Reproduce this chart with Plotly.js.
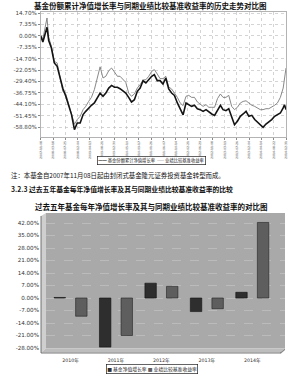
<!DOCTYPE html>
<html><head><meta charset="utf-8">
<script src="https://cdn.plot.ly/plotly-3.0.1.min.js"></script>
<style>html,body{margin:0;padding:0;background:#fff;}#chart{width:300px;height:377px;}</style>
</head><body><div id="chart"></div>
<script>
// ---------- texts ----------
const lineTitle = '基金份额累计净值增长率与同期业绩比较基准收益率的历史走势对比图';
const barTitle = '过去五年基金每年净值增长率及其与同期业绩比较基准收益率的对比图';
const noteText = '注：本基金自2007年11月08日起由封闭式基金隆元证券投资基金转型而成。';
const sectionText = '3.2.3 过去五年基金每年净值增长率及其与同期业绩比较基准收益率的比较';
const lineNames = ['基金份额累计净值增长率', '业绩比较基准收益率'];
const barNames = ['基金净值增长率', '业绩比较基准收益率'];

// ---------- line chart data (cumulative %) ----------
const dates = ['2007-11-08','2007-12-01',
'2008-01-14','2008-02-01','2008-03-01','2008-04-01','2008-05-01','2008-06-01','2008-07-01','2008-08-01','2008-09-01','2008-10-01','2008-11-01','2008-12-01',
'2009-01-01','2009-02-01','2009-03-01','2009-04-01','2009-05-01','2009-06-01','2009-07-01','2009-08-01','2009-09-01','2009-10-01','2009-11-01','2009-12-01',
'2010-01-01','2010-02-01','2010-03-01','2010-04-01','2010-05-01','2010-06-01','2010-07-01','2010-08-01','2010-09-01','2010-10-01','2010-11-01','2010-12-01',
'2011-01-01','2011-02-01','2011-03-01','2011-04-01','2011-05-01','2011-06-01','2011-07-01','2011-08-01','2011-09-01','2011-10-01','2011-11-01','2011-12-01',
'2012-01-01','2012-02-01','2012-03-01','2012-04-01','2012-05-01','2012-06-01','2012-07-01','2012-08-01','2012-09-01','2012-10-01','2012-11-01','2012-12-01',
'2013-01-01','2013-02-01','2013-03-01','2013-04-01','2013-05-01','2013-06-01','2013-07-01','2013-08-01','2013-09-01','2013-10-01','2013-11-01','2013-12-01',
'2014-01-01','2014-02-01','2014-03-01','2014-04-01','2014-05-01','2014-06-01','2014-07-01','2014-08-01','2014-09-01','2014-10-01','2014-11-01','2014-12-01',
'2014-12-15','2014-12-31'];
const fundCum = [0, -4.0,
5.5, -3.0, -7.9, -17.5, -19.7, -27.2, -34.0, -39.0, -45.5, -50.8, -60.5, -56.2,
-56.2, -50.8, -48.7, -46.5, -44.8, -43.3, -40.1, -37.0, -39.0, -36.9, -33.7, -32.0,
-33.2, -33.2, -34.1, -35.4, -36.9, -39.7, -42.7, -41.2, -35.8, -33.7, -29.0, -30.4,
-28.3, -26.1, -25.0, -28.9, -28.9, -31.1, -27.2, -34.3, -36.9, -38.4, -43.3, -47.6,
-51.0, -43.3, -44.4, -45.5, -44.8, -47.0, -47.6, -48.7, -47.6, -49.1, -50.4, -51.3,
-47.6, -44.8, -47.6, -48.3, -47.0, -53.0, -57.3, -55.1, -51.9, -50.4, -48.7, -51.9,
-51.3, -54.0, -55.6, -57.3, -59.0, -56.9, -55.6, -54.0, -51.9, -50.8, -49.8, -46.5,
-44.5, -47.6];
const benchCum = [0, -2.0,
11.5, -1.0, -6.8, -16.5, -17.5, -26.1, -36.0, -37.5, -44.4, -49.8, -57.0, -54.0,
-51.9, -47.6, -45.5, -42.3, -39.7, -34.7, -28.3, -20.0, -27.2, -26.1, -22.5, -20.8,
-23.3, -26.1, -26.1, -28.3, -30.0, -36.9, -39.0, -37.5, -33.7, -31.5, -28.5, -28.3,
-26.1, -22.9, -21.8, -24.6, -27.6, -27.6, -26.1, -33.0, -34.3, -36.9, -39.7, -43.3,
-45.0, -39.0, -38.4, -39.7, -39.7, -42.7, -44.4, -45.5, -44.4, -46.1, -46.1, -46.1,
-40.5, -37.5, -39.7, -39.7, -38.4, -45.5, -47.6, -46.1, -43.3, -42.3, -41.9, -43.3,
-44.8, -45.5, -46.5, -47.6, -47.6, -47.0, -47.0, -46.1, -44.8, -43.3, -39.7, -33.7,
-28.0, -20.8];
const lineTickDates = ['2007-11-08','2008-03-18','2008-07-25','2008-12-04','2009-04-13','2009-08-21','2009-12-30',
'2010-05-10','2010-09-17','2011-01-26','2011-06-07','2011-10-14','2012-02-21','2012-06-29','2012-11-08',
'2013-03-19','2013-07-26','2013-12-04','2014-04-14','2014-08-22','2014-12-31'];
const lineYTicks = [14.7, 7.35, 0, -7.35, -14.7, -22.05, -29.4, -36.75, -44.1, -51.45, -58.8];
const lineYTickText = ['14.70%','7.35%','0.00%','-7.35%','-14.70%','-22.05%','-29.40%','-36.75%','-44.10%','-51.45%','-58.80%'];

// ---------- bar chart data (yearly %) ----------
const years = ['2010年','2011年','2012年','2013年','2014年'];
const fundYearly = [0.3, -27.5, 8.3, -7.6, 3.2];
const benchYearly = [-10.2, -21.0, 6.5, -6.0, 42.3];
const barYTicks = [42, 35, 28, 21, 14, 7, 0, -7, -14, -21, -28];
const barYTickText = ['42.00%','35.00%','28.00%','21.00%','14.00%','7.00%','0.00%','-7.00%','-14.00%','-21.00%','-28.00%'];

// ---------- styling ----------
const W = 300, H = 377;
const px = v => v / W, py = v => 1 - v / H;
const cjk = 'Noto Sans CJK SC, sans-serif';
const num = 'DejaVu Sans, Noto Sans CJK SC, sans-serif';
const fundColor = '#141414', benchColor = '#7a7a7a';
const fundBar = '#2e2e2e', benchBar = '#5e5e5e';

const traces = [
  {type:'scatter', mode:'lines', x:dates, y:benchCum, name:lineNames[1], xaxis:'x', yaxis:'y',
   line:{color:benchColor, width:0.9}, showlegend:false},
  {type:'scatter', mode:'lines', x:dates, y:fundCum, name:lineNames[0], xaxis:'x', yaxis:'y',
   line:{color:fundColor, width:1.6}, showlegend:false},
  {type:'bar', x:years, y:fundYearly, name:barNames[0], xaxis:'x2', yaxis:'y2',
   marker:{color:fundBar, line:{color:'#111', width:0.6}}, showlegend:false},
  {type:'bar', x:years, y:benchYearly, name:barNames[1], xaxis:'x2', yaxis:'y2',
   marker:{color:benchBar, line:{color:'#222', width:0.6}}, showlegend:false}
];

function poly(pts){ return 'M' + pts.map(p => px(p[0]) + ',' + py(p[1])).join('L') + 'Z'; }

const layout = {
  width:W, height:H, autosize:false,
  margin:{l:0, r:0, t:0, b:0, pad:0},
  paper_bgcolor:'#fff', plot_bgcolor:'rgba(0,0,0,0)',
  showlegend:false, hovermode:false,
  barmode:'group', bargap:0.05, bargroupgap:0.47,
  font:{family:num, size:6, color:'#333'},
  xaxis:{domain:[px(40.7), px(286)], type:'date', range:['2007-11-08','2014-12-31'],
    tickmode:'array', tickvals:lineTickDates, ticktext:lineTickDates, tickangle:-90,
    tickfont:{size:3.1, color:'#444', family:num}, ticks:'outside', ticklen:2, tickcolor:'#888',
    showgrid:true, gridcolor:'#b8b8b8', griddash:'dot', gridwidth:0.6,
    showline:true, mirror:true, linecolor:'#a0a0a0', linewidth:0.8, zeroline:false},
  yaxis:{domain:[py(137), py(11.7)], range:[-65.25, 15.54], anchor:'x',
    tickmode:'array', tickvals:lineYTicks, ticktext:lineYTickText,
    tickfont:{size:5.6, color:'#444', family:num}, ticks:'outside', ticklen:2, tickcolor:'#888',
    showgrid:true, gridcolor:'#b8b8b8', griddash:'dot', gridwidth:0.6,
    showline:true, mirror:true, linecolor:'#a0a0a0', linewidth:0.8, zeroline:false},
  xaxis2:{domain:[px(46), px(285)], anchor:'y2', type:'category', range:[-0.54, 4.72],
    tickfont:{size:4.7, color:'#333', family:num}, ticks:'', ticklabelstandoff:8,
    showgrid:false, showline:false, zeroline:false},
  yaxis2:{domain:[py(348.5), py(213)], anchor:'x2', range:[-28.28, 47.6],
    tickmode:'array', tickvals:barYTicks, ticktext:barYTickText,
    tickfont:{size:5.6, color:'#333', family:num}, ticks:'', ticklabelstandoff:6,
    showgrid:true, gridcolor:'#c8c8c8', griddash:'dash', gridwidth:0.6,
    showline:false, zeroline:false},
  shapes:[
    {type:'rect', xref:'x2 domain', yref:'y2 domain', x0:0, x1:1, y0:0, y1:1,
     fillcolor:'#a9a9a9', line:{width:0}, layer:'below'},
    {type:'path', xref:'paper', yref:'paper', path:poly([[41,216],[46,213],[46,348.5],[41,352.5]]),
     fillcolor:'#cfcfcf', line:{width:0}, layer:'below'},
    {type:'path', xref:'paper', yref:'paper', path:poly([[41,352.5],[46,348.5],[285,348.5],[280,352.5]]),
     fillcolor:'#bdbdbd', line:{width:0}, layer:'below'},
    {type:'path', xref:'paper', yref:'paper', path:poly([[280,352.5],[285,348.5],[285,350],[281,353.5]]),
     fillcolor:'#8a8a8a', line:{width:0}, layer:'below'},
    {type:'line', xref:'paper', yref:'paper', x0:px(41), x1:px(41), y0:py(216), y1:py(353),
     line:{color:'#555', width:0.8}},
    {type:'line', xref:'paper', yref:'paper', x0:px(41), x1:px(281), y0:py(353), y1:py(353),
     line:{color:'#555', width:0.8}}
  ],
  annotations:[
    {text:'<b>' + lineTitle + '</b>', xref:'paper', yref:'paper', x:px(150.5), y:py(5),
     xanchor:'center', yanchor:'middle', showarrow:false, font:{family:cjk, size:7.5, color:'#111'}},
    {text:'<span style="color:#111">━━</span> ' + lineNames[0] + '  <span style="color:#777">——</span> ' + lineNames[1],
     xref:'paper', yref:'paper', x:px(151.5), y:py(160.5), xanchor:'center', yanchor:'middle', showarrow:false,
     font:{family:cjk, size:4.3, color:'#222'}, bordercolor:'#222', borderwidth:0.7, borderpad:0.5, bgcolor:'#fff'},
    {text:noteText, xref:'paper', yref:'paper', x:px(9), y:py(175), xanchor:'left', yanchor:'middle',
     showarrow:false, font:{family:cjk, size:6.4, color:'#111'}},
    {text:'<b>' + sectionText + '</b>', xref:'paper', yref:'paper', x:px(9), y:py(189), xanchor:'left', yanchor:'middle',
     showarrow:false, font:{family:cjk, size:6.8, color:'#111'}},
    {text:'<b>' + barTitle + '</b>', xref:'paper', yref:'paper', x:px(151), y:py(206),
     xanchor:'center', yanchor:'middle', showarrow:false, font:{family:cjk, size:7.5, color:'#111'}},
    {text:'<span style="color:' + fundBar + '">■</span> ' + barNames[0] + ' <span style="color:' + benchBar + '">■</span> ' + barNames[1],
     xref:'paper', yref:'paper', x:px(151.5), y:py(369), xanchor:'center', yanchor:'middle', showarrow:false,
     font:{family:cjk, size:4.8, color:'#222'}, bordercolor:'#222', borderwidth:0.7, borderpad:0.5, bgcolor:'#fff'}
  ]
};

Plotly.newPlot('chart', traces, layout, {staticPlot:true, displayModeBar:false});
</script>
</body></html>
